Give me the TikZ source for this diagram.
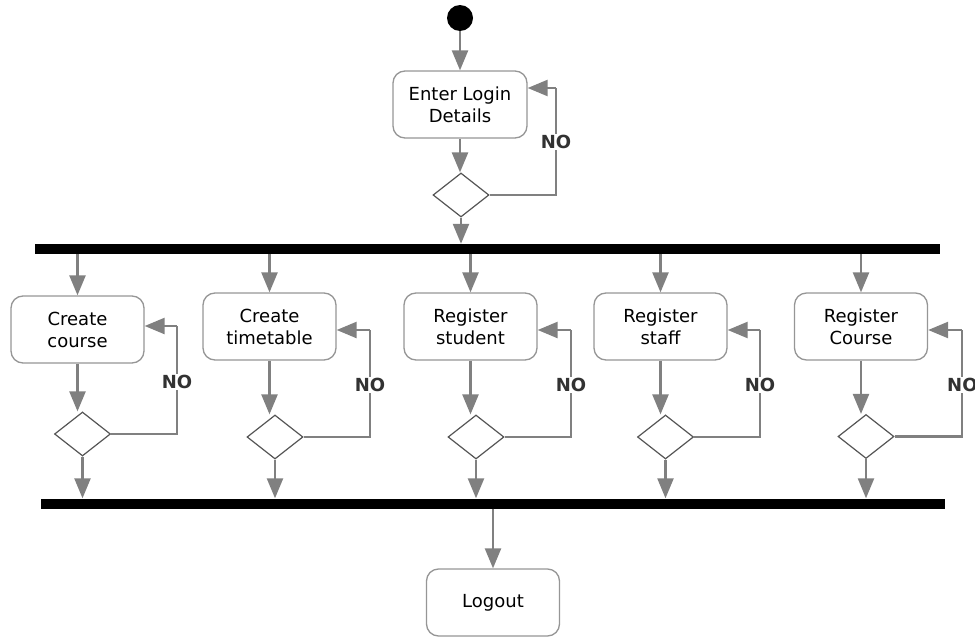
\documentclass[tikz,border=0pt]{standalone}
\usepackage{fontspec}
\setmainfont{DejaVu Sans}
\usetikzlibrary{shapes.geometric,arrows.meta}
\definecolor{linegray}{RGB}{128,128,128}
\definecolor{boxgray}{RGB}{150,150,150}
\definecolor{diagray}{RGB}{85,85,85}
\definecolor{nogray}{RGB}{50,50,50}
\tikzset{
  act/.style={draw=boxgray, line width=1.3pt, rounded corners=12pt, fill=white,
    minimum width=133pt, minimum height=67pt, align=center, inner sep=0pt,
    font=\fontsize{18}{22}\selectfont},
  dec/.style={draw=diagray, line width=1.2pt, diamond, minimum width=56pt, minimum height=44pt, inner sep=0pt, fill=white},
  syncbar/.style={fill=black, draw=none, minimum height=10pt, inner sep=0pt},
  arr/.style={draw=linegray, line width=2.4pt, -{Triangle[length=20pt,width=16pt]}},
  plain/.style={draw=linegray, line width=2.4pt},
  nolab/.style={fill=white, text=nogray, font=\fontsize{18}{22}\selectfont\bfseries, inner sep=1pt},
  startnode/.style={circle, fill=black, minimum size=26pt, inner sep=0pt}
}
\begin{document}
\begin{tikzpicture}[x=1pt,y=-1pt]
\useasboundingbox (0,0) rectangle (975,637);
% start
\node[startnode] (start) at (460,18) {};
\node[act, minimum width=134pt] (login) at (460,104.5) {Enter Login\\Details};
\node[dec] (d0) at (461,195) {};
\coordinate (l0) at (556,88);
\draw[arr] (start) -- (login);
\draw[arr] (login.south) -- (login.south |- d0.north);
\draw[plain] (d0.east) -| (l0);
\draw[arr] (l0) -- (login.east |- l0);
\node[nolab] (n0) at (556,142) {NO};

% bars
\node[syncbar, minimum width=905pt] (top) at (487.5,249) {};
\node[syncbar, minimum width=904pt] (bot) at (493,503.5) {};
\draw[arr] (d0.south) -- (d0.south |- top.north);

% column 1
\node[act] (b1) at (77.5,329.5) {Create\\course};
\node[dec] (d1) at (82.5,434) {};
\coordinate (l1) at (177,326);
\draw[arr] (top.south -| b1) -- (b1.north);
\draw[arr] (b1.south) -- (b1.south |- d1.north);
\draw[plain] (d1.east) -| (l1);
\draw[arr] (l1) -- (b1.east |- l1);
\node[nolab] (n1) at (177,382) {NO};
\draw[arr] (d1.south) -- (d1.south |- bot.north);

% column 2
\node[act] (b2) at (269.5,326.5) {Create\\timetable};
\node[dec] (d2) at (275,437) {};
\coordinate (l2) at (370,330);
\draw[arr] (top.south -| b2) -- (b2.north);
\draw[arr] (b2.south) -- (b2.south |- d2.north);
\draw[plain] (d2.east) -| (l2);
\draw[arr] (l2) -- (b2.east |- l2);
\node[nolab] (n2) at (370,385) {NO};
\draw[arr] (d2.south) -- (d2.south |- bot.north);

% column 3
\node[act] (b3) at (470.5,326.5) {Register\\student};
\node[dec] (d3) at (476,437) {};
\coordinate (l3) at (571,330);
\draw[arr] (top.south -| b3) -- (b3.north);
\draw[arr] (b3.south) -- (b3.south |- d3.north);
\draw[plain] (d3.east) -| (l3);
\draw[arr] (l3) -- (b3.east |- l3);
\node[nolab] (n3) at (571,385) {NO};
\draw[arr] (d3.south) -- (d3.south |- bot.north);

% column 4
\node[act] (b4) at (660.5,326.5) {Register\\staff};
\node[dec] (d4) at (665.5,437) {};
\coordinate (l4) at (760,330);
\draw[arr] (top.south -| b4) -- (b4.north);
\draw[arr] (b4.south) -- (b4.south |- d4.north);
\draw[plain] (d4.east) -| (l4);
\draw[arr] (l4) -- (b4.east |- l4);
\node[nolab] (n4) at (760,385) {NO};
\draw[arr] (d4.south) -- (d4.south |- bot.north);

% column 5
\node[act] (b5) at (861,326.5) {Register\\Course};
\node[dec] (d5) at (866,436.5) {};
\coordinate (l5) at (962,330);
\draw[arr] (top.south -| b5) -- (b5.north);
\draw[arr] (b5.south) -- (b5.south |- d5.north);
\draw[plain] (d5.east) -| (l5);
\draw[arr] (l5) -- (b5.east |- l5);
\node[nolab, anchor=west] (n5) at (946,385) {NO};
\draw[arr] (d5.south) -- (d5.south |- bot.north);

% logout
\node[act] (logout) at (493,602.5) {Logout};
\draw[arr] (bot.south -| logout) -- (logout.north);
\end{tikzpicture}
\end{document}
